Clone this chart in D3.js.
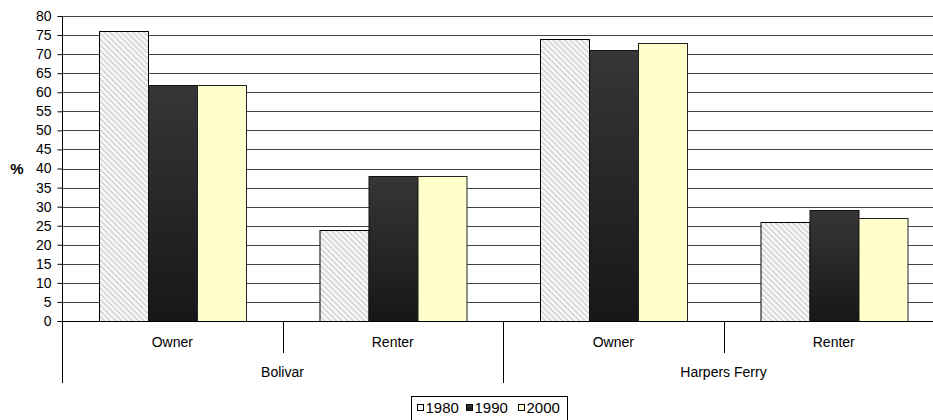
<!DOCTYPE html>
<html>
<head>
<meta charset="utf-8">
<script src="https://cdn.jsdelivr.net/npm/d3@7"></script>
<style>
  html, body { margin: 0; padding: 0; background: #fff; }
  svg { display: block; font-family: "Liberation Sans", Arial, sans-serif; }
</style>
</head>
<body>
<svg id="chart" width="933" height="420"></svg>
<script>
// Tenure shares by town, in percent
const towns = ["Bolivar", "Harpers Ferry"];
const tenures = ["Owner", "Renter"];
const years = ["1980", "1990", "2000"];
const values1980 = [76, 24, 74, 26];
const values1990 = [62, 38, 71, 29];
const values2000 = [62, 38, 73, 27];
const yTicks = [0, 5, 10, 15, 20, 25, 30, 35, 40, 45, 50, 55, 60, 65, 70, 75, 80];

(function () {
const seriesValues = { "1980": values1980, "1990": values1990, "2000": values2000 };
const groups = [];
towns.forEach(t => tenures.forEach(k => groups.push({ town: t, tenure: k, key: t + "|" + k })));
const rows = groups.map((g, i) => ({ ...g, vals: years.map(yr => ({ year: yr, value: seriesValues[yr][i] })) }));

const svg = d3.select("#chart");
const plotLeft = 62, plotRight = 944, plotTop = 16, plotBottom = 321;

const x0 = d3.scaleBand().domain(groups.map(g => g.key)).range([plotLeft, plotRight]).padding(0);
const x1 = d3.scaleBand().domain(years).range([0, x0.bandwidth()]).paddingInner(0).paddingOuter(0.755);
const y = d3.scaleLinear().domain([0, 80]).range([plotBottom, plotTop]);

const defs = svg.append("defs");
// fine diagonal hatch for 1980
const hatch = defs.append("pattern").attr("id", "hatch").attr("patternUnits", "userSpaceOnUse")
  .attr("width", 4).attr("height", 4).attr("patternTransform", "rotate(45)");
hatch.append("rect").attr("width", 4).attr("height", 4).attr("fill", "#fafafa");
hatch.append("rect").attr("x", 0).attr("y", 0).attr("width", 4).attr("height", 1.5).attr("fill", "#cfcfcf");
// dark vertical gradient for 1990
const grad = defs.append("linearGradient").attr("id", "dark").attr("x1", 0).attr("y1", 0).attr("x2", 0).attr("y2", 1);
grad.append("stop").attr("offset", "0%").attr("stop-color", "#363636");
grad.append("stop").attr("offset", "100%").attr("stop-color", "#171717");

const fills = { "1980": "url(#hatch)", "1990": "url(#dark)", "2000": "#ffffcc" };
const strokes = { "1980": "#000", "1990": "#111", "2000": "#222" };

// gridlines
svg.append("g").selectAll("line").data(yTicks.filter(d => d > 0)).join("line")
  .attr("x1", plotLeft).attr("x2", plotRight)
  .attr("y1", d => Math.round(y(d)) + 0.5).attr("y2", d => Math.round(y(d)) + 0.5)
  .attr("stroke", "#444").attr("stroke-width", 1);

// y axis
const yAxis = d3.axisLeft(y).tickValues(yTicks).tickSize(5).tickPadding(6);
const gy = svg.append("g").attr("transform", `translate(${plotLeft + 0.5},0)`).call(yAxis);
gy.select(".domain").remove();
gy.selectAll(".tick line").attr("stroke", "#000");
gy.selectAll(".tick text").attr("font-size", 14).attr("fill", "#000")
  .attr("font-family", "'Liberation Sans', Arial, sans-serif");

// bars
const gGroups = svg.append("g").selectAll("g").data(rows).join("g")
  .attr("transform", d => `translate(${x0(d.key)},0)`);
gGroups.selectAll("rect").data(d => d.vals).join("rect")
  .attr("x", d => Math.round(x1(d.year)) + 0.5)
  .attr("y", d => Math.round(y(d.value)) + 0.5)
  .attr("width", Math.round(x1.bandwidth()))
  .attr("height", d => Math.round(y(0)) - Math.round(y(d.value)))
  .attr("fill", d => fills[d.year])
  .attr("stroke", d => strokes[d.year]).attr("stroke-width", 1);

// axis lines
svg.append("line").attr("x1", plotLeft).attr("x2", plotRight)
  .attr("y1", plotBottom + 0.5).attr("y2", plotBottom + 0.5).attr("stroke", "#000");
svg.append("line").attr("x1", plotLeft + 0.5).attr("x2", plotLeft + 0.5)
  .attr("y1", plotTop).attr("y2", 383).attr("stroke", "#000");

// category separators
const tickG = svg.append("g");
groups.forEach((g) => {
  const xr = x0(g.key) + x0.bandwidth();
  const isTownEdge = tenures.indexOf(g.tenure) === tenures.length - 1;
  tickG.append("line")
    .attr("x1", Math.round(xr) + 0.5).attr("x2", Math.round(xr) + 0.5)
    .attr("y1", plotBottom).attr("y2", isTownEdge ? 383 : 353)
    .attr("stroke", "#000");
});

// tenure labels
svg.append("g").selectAll("text").data(groups).join("text")
  .attr("x", d => x0(d.key) + x0.bandwidth() / 2).attr("y", 347)
  .attr("text-anchor", "middle").attr("font-size", 14).text(d => d.tenure);

// town labels
const townScale = d3.scaleBand().domain(towns).range([plotLeft, plotRight]);
svg.append("g").selectAll("text").data(towns).join("text")
  .attr("x", d => townScale(d) + townScale.bandwidth() / 2).attr("y", 377)
  .attr("text-anchor", "middle").attr("font-size", 14).text(d => d);

// y-axis title
svg.append("text").attr("x", 17).attr("y", y(40) + 5).attr("text-anchor", "middle")
  .attr("font-size", 15).attr("font-weight", "bold").text("%");

// legend
const legend = svg.append("g");
legend.append("rect").attr("x", 411.5).attr("y", 396.5).attr("width", 156).attr("height", 30)
  .attr("fill", "#fff").attr("stroke", "#000");
const legendX = [417, 466, 518];
years.forEach((yr, i) => {
  legend.append("rect").attr("x", legendX[i] + 0.5).attr("y", 404.5).attr("width", 6).attr("height", 6)
    .attr("fill", yr === "1980" ? "#f4f4f4" : fills[yr]).attr("stroke", "#000");
  legend.append("text").attr("x", legendX[i] + 8.5).attr("y", 412.5).attr("font-size", 15).text(yr);
});
})();
</script>
</body>
</html>
